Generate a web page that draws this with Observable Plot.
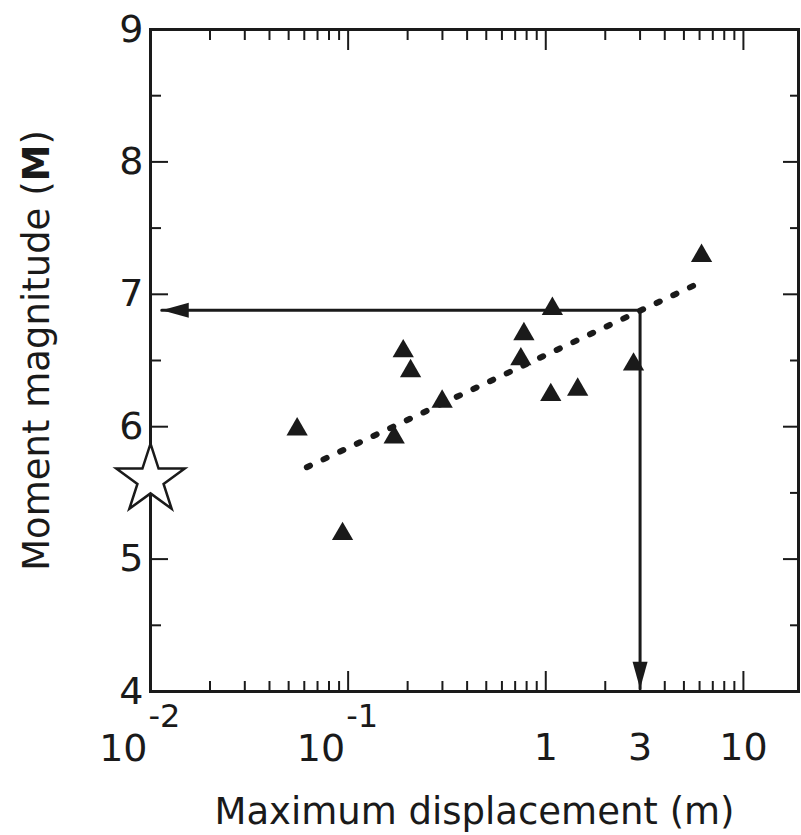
<!DOCTYPE html>
<html><head><meta charset="utf-8">
<script src="https://cdn.jsdelivr.net/npm/d3@7"></script>
<script src="https://cdn.jsdelivr.net/npm/@observablehq/plot@0.6"></script>
<style>body{margin:0;background:#fff} #chart svg{display:block}</style>
</head><body><div id="chart"></div>
<script>
// Observed earthquakes: maximum displacement (m) vs moment magnitude
const displacement = [0.0552, 0.0937, 0.190, 0.207, 0.171, 0.299, 0.775, 0.748, 1.06, 1.45, 1.08, 2.78, 6.14];
const magnitude    = [5.98,   5.19,   6.57,  6.42,  5.92,  6.19,  6.70,  6.51,  6.24, 6.28, 6.89, 6.47, 7.29];
// regression (dotted) line end points
const fitDisp = [0.0618, 6.48];
const fitMag  = [5.694, 7.11];
// arrow path: from 3 m up to the fit line, then across to the magnitude axis
const arrowDisp = [0.0114, 3, 3];
const arrowMag  = [6.88, 6.88, 4.02];
// estimated event (star)
const starDisp = [0.01];
const starMag  = [5.6];
// ticks
const yMajor = [4, 5, 6, 7, 8, 9];
const yMinor = [4.5, 5.5, 6.5, 7.5, 8.5];
const xMajor = [0.01, 0.1, 1, 10];
const xMinor = [0.02,0.03,0.04,0.05,0.06,0.07,0.08,0.09,0.2,0.3,0.4,0.5,0.6,0.7,0.8,0.9,2,3,4,5,6,7,8,9];
const xPowTicks = [0.01, 0.1];
const xPowBase = ["10", "10"];
const xPowExp = ["-2", "-1"];
const xPlainTicks = [1, 3, 10];
const xPlainLabels = ["1", "3", "10"];
const xTitle = "Maximum displacement (m)";
const yTitle = "Moment magnitude (M)";

const ink = "#1a1a1a";
const font = "DejaVu Sans, sans-serif";
const pts = displacement.map((d, i) => ({d, m: magnitude[i]}));
const fit = fitDisp.map((d, i) => ({d, m: fitMag[i]}));
const arrow = arrowDisp.map((d, i) => ({d, m: arrowMag[i]}));
const star = starDisp.map((d, i) => ({d, m: starMag[i]}));
const headLeft = [{d: arrowDisp[0], m: arrowMag[0]}];
const headDown = [{d: arrowDisp[2], m: arrowMag[2]}];
const powTicks = xPowTicks.map((d, i) => ({d, b: xPowBase[i], e: xPowExp[i]}));
const plainTicks = xPlainTicks.map((d, i) => ({d, t: xPlainLabels[i]}));

const headSym = {draw(ctx) { ctx.moveTo(0, 0); ctx.lineTo(-7.5, -27); ctx.lineTo(7.5, -27); ctx.closePath(); }};
const blank = () => "";

const tickAxes = [];
for (const [anchor, ticks, size] of [["bottom", xMajor, -20], ["bottom", xMinor, -10], ["top", xMajor, -20], ["top", xMinor, -10]]) {
  tickAxes.push(Plot.axisX({anchor, ticks, tickSize: size, tickFormat: blank, label: null, stroke: ink, strokeWidth: 2}));
}
for (const [anchor, ticks, size] of [["left", yMajor, -18], ["left", yMinor, -11], ["right", yMajor, -16], ["right", yMinor, -9]]) {
  tickAxes.push(Plot.axisY({anchor, ticks, tickSize: size, tickFormat: blank, label: null, stroke: ink, strokeWidth: 2}));
}

const chart = Plot.plot({
  width: 801, height: 835,
  marginLeft: 150, marginRight: 3, marginTop: 29, marginBottom: 144,
  style: {fontFamily: font, color: ink, background: "#fff"},
  x: {type: "log", domain: [0.01, 19]},
  y: {domain: [4, 9]},
  marks: [
    ...tickAxes,
    Plot.axisY({anchor: "left", ticks: yMajor, tickSize: 0, tickPadding: 7, fontSize: 38, label: null, tickFormat: d => String(d)}),
    Plot.text(plainTicks, {x: "d", text: "t", frameAnchor: "bottom", dy: 68, lineAnchor: "bottom", fontSize: 38, fill: ink}),
    Plot.text(powTicks, {x: "d", text: "b", frameAnchor: "bottom", dy: 69, dx: -3, lineAnchor: "bottom", textAnchor: "end", fontSize: 38, fill: ink}),
    Plot.text(powTicks, {x: "d", text: "e", frameAnchor: "bottom", dy: 35, dx: -2, lineAnchor: "bottom", textAnchor: "start", fontSize: 32, fill: ink}),
    Plot.text([xTitle], {text: d => d, frameAnchor: "bottom", dy: 132, lineAnchor: "bottom", textAnchor: "middle", fontSize: 37, fill: ink}),
    Plot.text([yTitle], {text: d => d, frameAnchor: "left", dx: -102, dy: -10, rotate: -90, lineAnchor: "bottom", textAnchor: "middle", fontSize: 37, fill: ink}),
    Plot.frame({stroke: ink, strokeWidth: 3}),
    Plot.line(fit, {x: "d", y: "m", stroke: ink, strokeWidth: 6, strokeDasharray: "3.5,14.9", strokeLinecap: "round"}),
    Plot.line(arrow, {x: "d", y: "m", stroke: ink, strokeWidth: 3, curve: "linear"}),
    Plot.dot(headLeft, {x: "d", y: "m", symbol: headSym, r: 5, fill: ink, stroke: "none", rotate: 90}),
    Plot.dot(headDown, {x: "d", y: "m", symbol: headSym, r: 5, fill: ink, stroke: "none"}),
    Plot.dot(pts, {x: "d", y: "m", symbol: d3.symbolTriangle, r: 7.9, fill: ink, stroke: "none"}),
    Plot.dot(star, {x: "d", y: "m", symbol: "star", r: 21.5, fill: "#fff", stroke: ink, strokeWidth: 2.5})
  ]
});

// Bold "M" inside the y title
d3.select(chart).selectAll("text").each(function() {
  if (this.textContent === yTitle) {
    const t = d3.select(this);
    t.text(null);
    t.append("tspan").text("Moment magnitude (");
    t.append("tspan").attr("font-weight", "bold").text("M");
    t.append("tspan").text(")");
  }
});
document.getElementById("chart").appendChild(chart);
</script>
</body></html>
